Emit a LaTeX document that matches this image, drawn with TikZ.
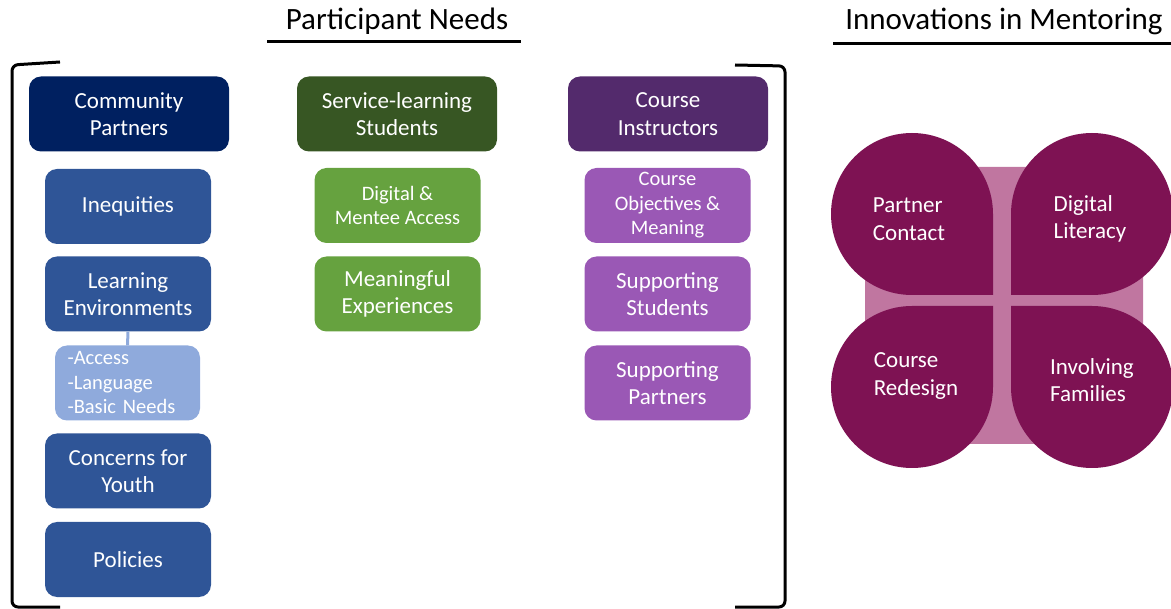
\documentclass[tikz,border=0pt]{standalone}
\usepackage{fontspec}
\setmainfont{Carlito}

\definecolor{navy}{HTML}{002060}
\definecolor{steel}{HTML}{2F5597}
\definecolor{sky}{HTML}{8FAADC}
\definecolor{forest}{HTML}{375623}
\definecolor{leaf}{HTML}{66A23F}
\definecolor{plum}{HTML}{532A6C}
\definecolor{lilac}{HTML}{9A58B5}
\definecolor{berry}{HTML}{7E1253}
\definecolor{rose}{HTML}{C076A0}

\begin{document}
\begin{tikzpicture}[x=1pt, y=-1pt, font=\fontsize{23}{27.5}\selectfont,
    head/.style={fill=#1, rounded corners=12pt, text=white, align=center,
        minimum width=200pt, minimum height=75pt, inner sep=0pt},
    need/.style={fill=#1, rounded corners=12pt, text=white, align=center,
        minimum width=166pt, minimum height=75pt, inner sep=0pt},
    smalltext/.style={font=\fontsize{20.5}{24.5}\selectfont},
    title/.style={font=\fontsize{31}{36}\selectfont},
    petal/.style={fill=berry},
    bracket/.style={line width=3pt, rounded corners=6pt}]
    \useasboundingbox (0,0) rectangle (1171,609);

    % headings
    \node[title] (needs) at (397,21) {Participant Needs};
    \draw[line width=3pt] (267,42) -- (521,42);
    \node[title] (innov) at (1004,21) {Innovations in Mentoring};
    \draw[line width=3pt] (833,44) -- (1171,44);

    % bracket round the three groups
    \draw[bracket] (60,62) -- (12,65) -- (12,607) -- (60,607);
    \draw[bracket] (735,65) -- (785,66) -- (785,607) -- (735,607);

    % community partners
    \node[head=navy] (cp) at (129,114) {Community\\Partners};
    \node[need=steel] (ineq) at (128,206.5) {Inequities};
    \node[need=steel] (learn) at (128,294) {Learning\\Environments};
    \node[fill=sky, rounded corners=12pt, text=white, smalltext, align=left,
        text width=120pt, minimum width=145pt, minimum height=75pt, inner sep=0pt]
        (barriers) at (127.5,383) {-Access\\-Language\\-Basic Needs};
    \draw[sky, line width=3pt] (learn.south) -- (barriers.north);
    \node[need=steel] (youth) at (128,471) {Concerns for\\Youth};
    \node[need=steel] (policy) at (128,559.5) {Policies};

    % service-learning students
    \node[head=forest] (sls) at (397,114) {Service-learning\\Students};
    \node[need=leaf, smalltext] (access) at (397.5,205.5) {Digital \&\\Mentee Access};
    \node[need=leaf] (meaning) at (397.5,294) {Meaningful\\Experiences};

    % course instructors
    \node[head=plum] (ci) at (668,114) {Course\\Instructors};
    \node[need=lilac, smalltext] (obj) at (667.5,205.5) {Course\\Objectives \&\\Meaning};
    \node[need=lilac] (supstud) at (667.5,294) {Supporting\\Students};
    \node[need=lilac] (suppart) at (667.5,383) {Supporting\\Partners};

    % four petals on a rounded square
    \fill[rose, rounded corners=30pt] (865,167) rectangle (1143,444);
    \fill[petal] (993,295) -- (912,295) arc[start angle=90, end angle=360, radius=81] -- cycle;
    \fill[petal] (1011,295) -- (1011,214) arc[start angle=180, end angle=450, radius=81] -- cycle;
    \fill[petal] (993,306) -- (993,387) arc[start angle=0, end angle=270, radius=81] -- cycle;
    \fill[petal] (1011,306) -- (1092,306) arc[start angle=270, end angle=540, radius=81] -- cycle;
    \node[text=white, align=left] (contact) at (909,219) {Partner\\Contact};
    \node[text=white, align=left] (digital) at (1090,219) {Digital\\Literacy};
    \node[text=white, align=left] (redesign) at (916,376) {Course\\Redesign};
    \node[text=white, align=left] (families) at (1092,380) {Involving\\Families};
\end{tikzpicture}
\end{document}
